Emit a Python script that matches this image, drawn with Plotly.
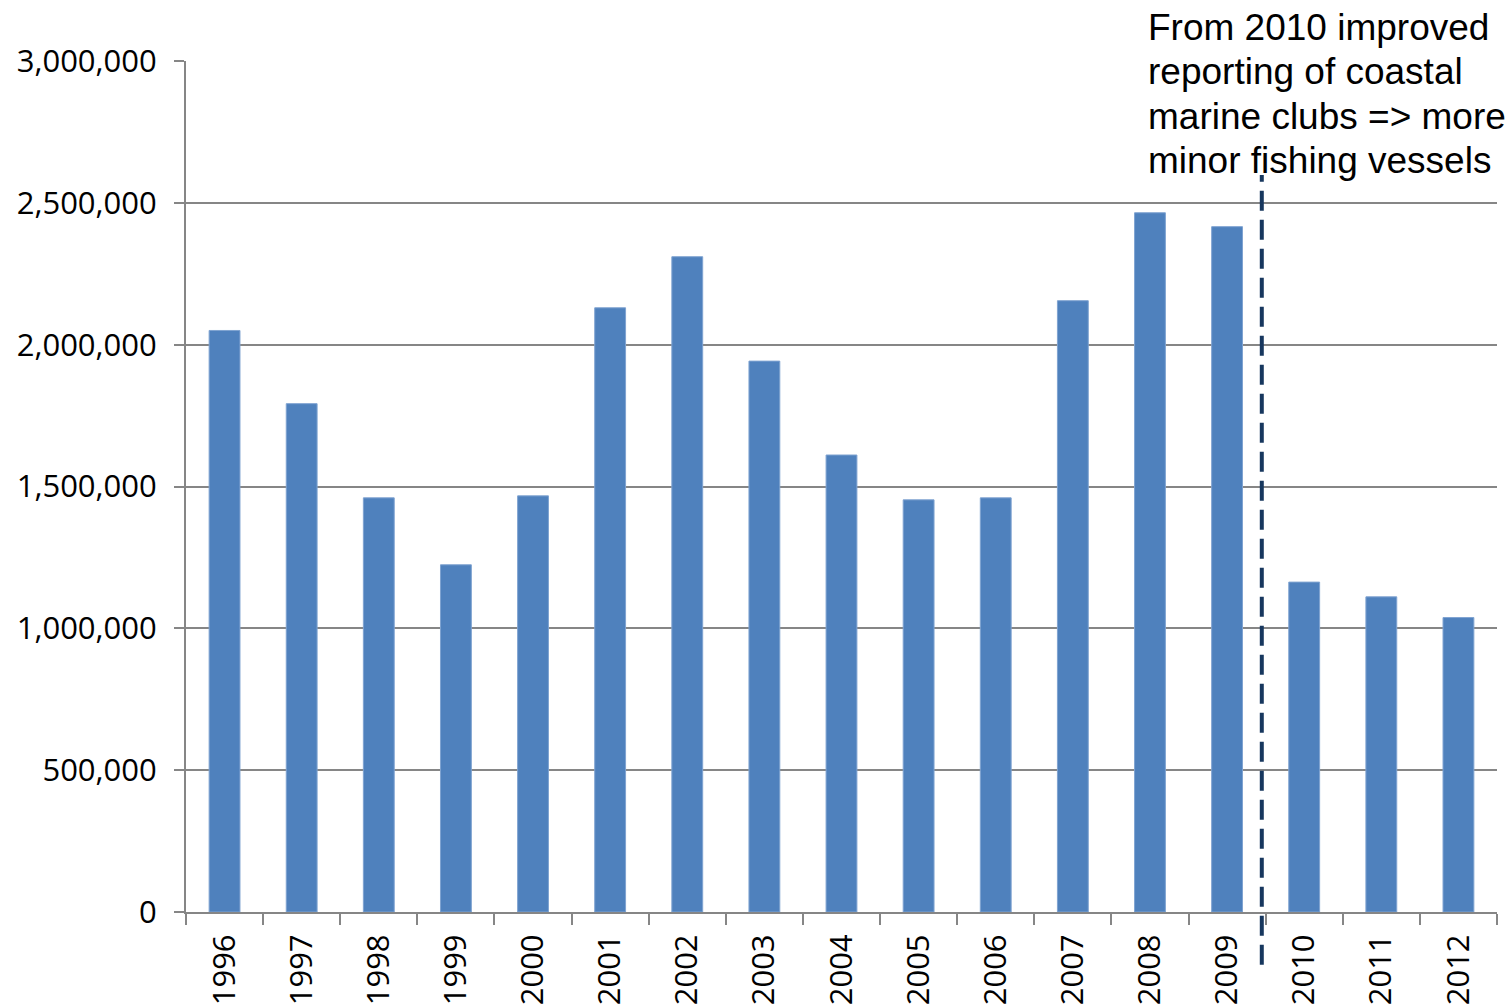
import plotly.graph_objects as go

years = [str(y) for y in range(1996, 2013)]
values = [2050000, 1792000, 1460000, 1224000, 1467000, 2130000, 2310000, 1942000,
          1611000, 1453000, 1460000, 2155000, 2465000, 2416000, 1163000, 1111000, 1038000]
y_ticks = [0, 500000, 1000000, 1500000, 2000000, 2500000, 3000000]
y_labels = ["0", "500,000", "1,000,000", "1,500,000", "2,000,000", "2,500,000", "3,000,000"]
note_lines = ["From 2010 improved", "reporting of coastal",
              "marine clubs => more", "minor fishing vessels"]

fig = go.Figure()
fig.add_trace(go.Bar(x=years, y=values, marker=dict(color="#4F81BD",
                     line=dict(color="#7FA3D1", width=1))))

fig.update_layout(
    width=1512, height=1007,
    margin=dict(l=186, r=15, t=61, b=95),
    plot_bgcolor="white", paper_bgcolor="white",
    bargap=0.6, showlegend=False,
    font=dict(family="Open Sans", size=31, color="black"),
)
fig.update_xaxes(type="category", tickangle=-90, tickson="boundaries",
                 ticks="outside", ticklen=11, tickwidth=2, tickcolor="#868686",
                 showline=True, linecolor="#868686", linewidth=2,
                 showgrid=False, ticklabelstandoff=8, automargin=False,
                 tickfont=dict(family="Open Sans", size=31))
fig.update_yaxes(range=[0, 3000000], tickvals=y_ticks, ticktext=y_labels,
                 ticks="outside", ticklen=10, tickwidth=2, tickcolor="#868686",
                 showline=True, linecolor="#868686", linewidth=2,
                 showgrid=True, gridcolor="#868686", gridwidth=2,
                 zeroline=False, ticklabelstandoff=11, automargin=False,
                 tickfont=dict(family="Open Sans", size=31))

fig.add_shape(type="line", xref="x", yref="paper", x0=13.45, x1=13.45,
              y0=-0.062, y1=0.866,
              line=dict(color="#17375E", width=4, dash="20px,9px"))

line_centers_px = [27, 71.5, 116, 160.5]
for txt, py in zip(note_lines, line_centers_px):
    fig.add_annotation(text=txt, xref="paper", yref="paper",
                       x=(1146 - 186) / 1311, y=(912 - py) / 851,
                       xanchor="left", yanchor="middle", align="left", showarrow=False,
                       font=dict(family="Liberation Sans", size=37, color="black"))

fig.write_html("out.html", config={"displayModeBar": False},
               post_script="document.body.style.margin='0';")
